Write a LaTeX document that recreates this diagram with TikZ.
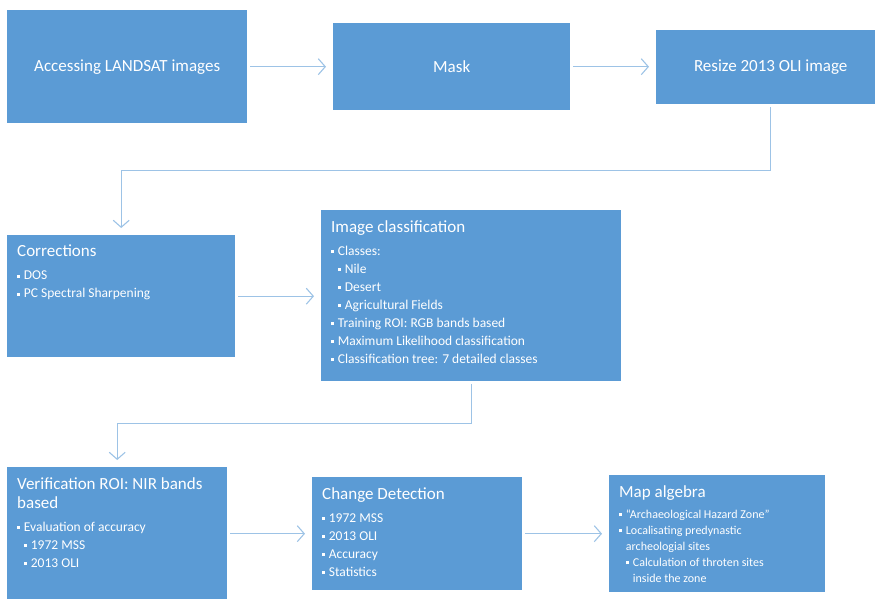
\documentclass[tikz,border=0pt]{standalone}
\usepackage{fontspec}
\setmainfont{Carlito}
\usetikzlibrary{arrows.meta}

\definecolor{boxblue}{RGB}{91,155,213}
\definecolor{lineblue}{RGB}{157,195,230}

\newcommand\bul{\rule[0.28ex]{3.2pt}{3.2pt}\hspace{3.5pt}}
\newcommand\subbul{\hspace*{7pt}\bul}
\newcommand\stagetext[4]{\parbox[t][#2][t]{#1}{\raggedright
  \fontsize{17}{19}\selectfont #3\par\vspace{5pt}%
  \fontsize{13.5}{18}\selectfont #4}}

\begin{document}
\begin{tikzpicture}[x=1pt,y=-1pt,
    every path/.style={>=latex},
    topbox/.style={fill=boxblue,text=white,anchor=north west,inner sep=0pt,
      font=\fontsize{17}{20}\selectfont},
    stage/.style={fill=boxblue,text=white,anchor=north west,inner sep=10pt},
    flowline/.style={draw=lineblue,line width=1.1pt,
      -{Straight Barb[length=7pt,width=16pt]},shorten <=3pt,shorten >=7pt}]
  \useasboundingbox (0,0) rectangle (875,599);
  \clip (0,0) rectangle (875,599);
  % first row
  \node[topbox,minimum width=240pt,minimum height=113pt] (acc) at (7,10) {Accessing LANDSAT images};
  \node[topbox,minimum width=237pt,minimum height=87pt] (mask) at (333,23) {Mask};
  \node[topbox,minimum width=229pt,minimum height=74pt] (resize) at (656,30) {Resize 2013 OLI image};
  % second row
  \node[stage] (corr) at (7,235) {\stagetext{208pt}{102pt}{Corrections}{%
    \bul DOS\par
    \bul PC Spectral Sharpening}};
  \node[stage] (cls) at (321,210) {\stagetext{280pt}{151pt}{Image classification}{%
    \bul Classes:\par
    \subbul Nile\par
    \subbul Desert\par
    \subbul Agricultural Fields\par
    \bul Training ROI: RGB bands based\par
    \bul Maximum Likelihood classification\par
    \bul Classification tree: 7 detailed classes}};
  % third row
  \node[stage] (verif) at (7,467) {\stagetext{200pt}{120pt}{Verification ROI: NIR bands based}{%
    \bul Evaluation of accuracy\par
    \subbul 1972 MSS\par
    \subbul 2013 OLI}};
  \node[stage] (change) at (312,477) {\stagetext{190pt}{93pt}{Change Detection}{%
    \bul 1972 MSS\par
    \bul 2013 OLI\par
    \bul Accuracy\par
    \bul Statistics}};
  \node[stage] (map) at (609,475) {\stagetext{196pt}{97pt}{Map algebra}{%
    \fontsize{12}{16}\selectfont
    \bul ``Archaeological Hazard Zone''\par
    \bul Localisating predynastic\\\hspace*{6.7pt}archeologial sites\par
    \subbul Calculation of throten sites\\\hspace*{13.7pt}inside the zone}};
  % connectors
  \draw[flowline] (acc.east) -- (mask.west);
  \draw[flowline] (mask.east) -- (mask.east -| resize.west);
  \draw[flowline] (resize.south) -- ++(0,66) -| (corr.north);
  \draw[flowline] (corr.east) -- (corr.east -| cls.west);
  \draw[flowline] (cls.south) -- ++(0,42) -| (verif.north);
  \draw[flowline] (verif.east |- change.east) -- (change.west);
  \draw[flowline] (change.east) -- (map.west);
\end{tikzpicture}
\end{document}
